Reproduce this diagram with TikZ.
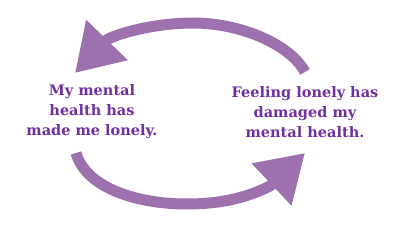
\documentclass[tikz,border=0pt]{standalone}
\usepackage{fontspec}
\setmainfont{DejaVu Serif}
\usetikzlibrary{arrows.meta}
\definecolor{arrowpurple}{RGB}{157,113,174}
\definecolor{textpurple}{RGB}{112,48,160}
\begin{document}
\begin{tikzpicture}[
  x=1pt, y=-1pt,
  txt/.style={text=textpurple, font=\bfseries\fontsize{14.5}{20}\selectfont, align=center},
  loop/.style={draw=arrowpurple, line width=11pt, line join=round,
    -{Triangle[length=46pt,width=55pt]}}
]
  \useasboundingbox (0,0) rectangle (394,232);

  \node[txt] (health) at (92,112) {My mental\\health has\\made me lonely.};
  \node[txt] (lonely) at (305,112) {Feeling lonely has\\damaged my\\mental health.};

  % ends of the two arrows
  \coordinate (topTail) at (305,72);
  \coordinate (topPeak) at (193,23);
  \coordinate (topJoin) at (108,39);
  \coordinate (topTip)  at (75,73);
  \coordinate (botTail) at (76,153);
  \coordinate (botLow)  at (187,204);
  \coordinate (botJoin) at (270,186);
  \coordinate (botTip)  at (305,153);

  \draw[loop] (topTail) .. controls (290,44) and (240,23) .. (topPeak)
    .. controls (160,23) and (125,31) .. (topJoin) -- (topTip);
  \draw[loop] (botTail) .. controls (86,188) and (137,204) .. (botLow)
    .. controls (225,204) and (250,196) .. (botJoin) -- (botTip);
\end{tikzpicture}
\end{document}
